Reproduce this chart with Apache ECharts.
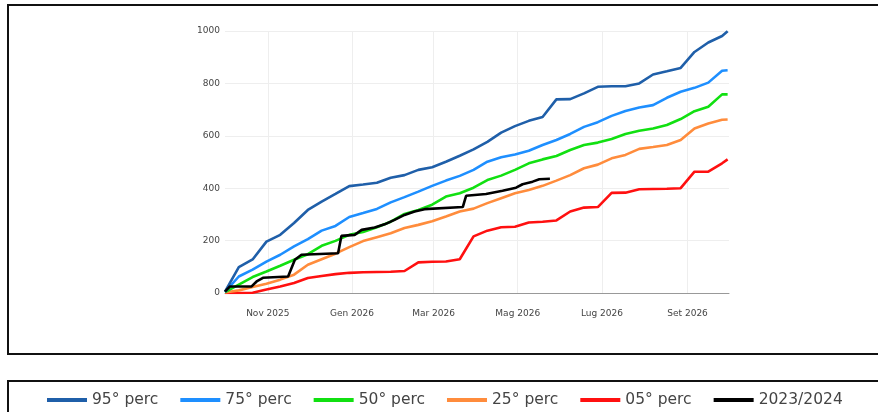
<!DOCTYPE html>
<html>
<head>
<meta charset="utf-8">
<script src="https://cdn.jsdelivr.net/npm/echarts@6/dist/echarts.min.js"></script>
<style>
html,body{margin:0;padding:0;background:#fff;}
#chart{width:878px;height:412px;}
</style>
</head>
<body>
<div id="chart"></div>
<script>
// Day offsets from 1 Oct 2025 (shared sampling for the percentile curves)
const days = [0,10,20,30,40,50,60,70,80,90,100,110,120,130,140,150,160,170,180,190,200,210,220,230,240,250,260,270,280,290,300,310,320,330,340,350,360,364];

const p95 = [5,99,128,196,222,267,317,349,378,408,414,421,440,450,470,480,501,524,548,577,612,637,657,672,739,740,762,787,789,789,800,834,846,859,920,956,981,999];
const p75 = [4,63,89,120,146,178,206,238,256,290,305,321,346,366,387,409,429,447,470,501,518,529,543,565,584,607,634,652,676,695,708,717,745,768,783,803,848,850];
const p50 = [3,32,61,82,104,127,148,180,199,222,233,251,272,302,317,337,368,381,402,431,448,470,495,510,523,546,565,574,588,607,619,628,641,664,694,711,758,758];
const p25 = [2,10,23,35,51,70,108,129,150,175,198,213,228,248,260,274,292,311,322,343,362,381,393,409,429,450,476,490,514,527,550,557,565,584,628,647,661,662];
const p05 = [0,0,1,13,25,38,57,65,72,77,79,80,81,84,117,119,120,129,216,238,251,253,269,272,277,311,326,328,382,383,396,397,398,400,463,463,495,510];

// 2023/2024 season, its own breakpoints
const blackDays = [0,3.6,19.3,22.9,27.5,45.7,50.6,55.4,81.9,84.3,93.9,99,108.4,115.6,122.8,130,137.3,144.5,172.2,174.6,189,201,210.8,215.5,222.8,227.6,235.3];
const blackVals = [5,25,25,44,58,63,127,146,152,218,222,241,250,262,279,298,311,320,328,371,378,390,402,415,425,434,436];

const seriesNames = ['95° perc','75° perc','50° perc','25° perc','05° perc','2023/2024'];
const seriesColors = ['#1f5fa9','#1e8fff','#11e011','#ff8c3c','#ff1010','#000000'];

const monthNames = ['Gen','Feb','Mar','Apr','Mag','Giu','Lug','Ago','Set','Ott','Nov','Dic'];
const tickDates = [[2025,10],[2026,0],[2026,2],[2026,4],[2026,6],[2026,8]];

const DAY = 86400000;
const t0 = Date.UTC(2025,9,1);
const tEnd = Date.UTC(2026,9,1);
const toPairs = (ds, vs) => ds.map((d,i) => [t0 + d*DAY, vs[i]]);
const tickVals = tickDates.map(a => Date.UTC(a[0], a[1], 1));

const dataSets = [toPairs(days,p95),toPairs(days,p75),toPairs(days,p50),toPairs(days,p25),toPairs(days,p05),toPairs(blackDays,blackVals)];

const chart = echarts.init(document.getElementById('chart'), null, {renderer:'canvas'});
chart.setOption({
  animation:false,
  backgroundColor:'#ffffff',
  graphic:[
    {type:'rect', shape:{x:8,y:5,width:880,height:349}, style:{fill:'none', stroke:'#111', lineWidth:2}, z:100},
    {type:'rect', shape:{x:8,y:381,width:880,height:50}, style:{fill:'none', stroke:'#111', lineWidth:2}, z:100}
  ],
  grid:{left:225, right:149, top:31, bottom:119, containLabel:false},
  xAxis:{
    type:'value', min:t0, max:tEnd, scale:true,
    axisLine:{show:true, lineStyle:{color:'#999', width:1}},
    axisTick:{show:false, customValues:tickVals},
    axisLabel:{customValues:tickVals, margin:16, color:'#444', fontSize:9, fontFamily:'DejaVu Sans',
      formatter:function(v){const d=new Date(v); return monthNames[d.getUTCMonth()]+' '+d.getUTCFullYear();}},
    splitLine:{show:true, lineStyle:{color:'#eeeeee', width:1}}
  },
  yAxis:{
    type:'value', min:0, max:1000, interval:200,
    axisLine:{show:false}, axisTick:{show:false},
    axisLabel:{color:'#444', fontSize:9, fontFamily:'DejaVu Sans', margin:5, formatter:function(v){return String(v);}},
    splitLine:{show:true, lineStyle:{color:'#eeeeee', width:1}}
  },
  legend:{
    data:seriesNames, left:42, top:387,
    icon:'rect', itemWidth:40, itemHeight:4, itemGap:22,
    textStyle:{fontSize:15.5, color:'#444', fontFamily:'DejaVu Sans'}
  },
  series: seriesNames.map((n,i)=>({
    name:n, type:'line', data:dataSets[i], showSymbol:false, symbol:'none',
    lineStyle:{color:seriesColors[i], width:2.6}, itemStyle:{color:seriesColors[i]},
    z: i===5 ? 10 : 5-i
  }))
});
</script>
</body>
</html>
